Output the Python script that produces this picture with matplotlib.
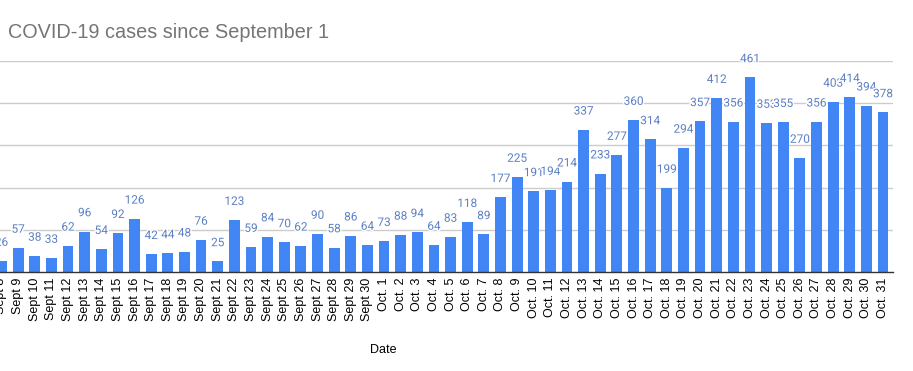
import matplotlib
matplotlib.use("Agg")
import matplotlib.pyplot as plt
import matplotlib.patheffects as pe

# dates visible in the cropped chart (Sept 8 - Oct 31)
sept_days = list(range(8, 31))
oct_days = list(range(1, 32))
dates = [f"Sept {d}" for d in sept_days] + [f"Oct. {d}" for d in oct_days]

sept_cases = [26, 57, 38, 33, 62, 96, 54, 92, 126, 42, 44, 48, 76, 25, 123,
              59, 84, 70, 62, 90, 58, 86, 64]
oct_cases = [73, 88, 94, 64, 83, 118, 89, 177, 225, 191, 194, 214, 337, 233,
             277, 360, 314, 199, 294, 357, 412, 356, 461, 353, 355, 270, 356,
             403, 414, 394, 378]
cases = sept_cases + oct_cases

BAR_COLOR = "#4285f4"
LABEL_COLOR = "#5b7fc2"

fig = plt.figure(figsize=(9.13, 3.71), dpi=100)
ax = fig.add_axes([0.0, 0.2668, 893 / 913, 0.5688])

x = list(range(len(dates)))
ax.bar(x, cases, width=0.65, color=BAR_COLOR, zorder=2)

# value labels, later ones drawn over earlier ones with a thin white halo
for xi, v in zip(x, cases):
    ax.annotate(str(v), (xi, v), xytext=(0, 13.5), textcoords="offset points",
                ha="center", va="center", fontsize=8.5, color=LABEL_COLOR,
                family="Roboto", zorder=3,
                path_effects=[pe.withStroke(linewidth=2, foreground="white")])

ax.set_xlim(-0.09, len(dates) - 1 + 0.6)
ax.set_ylim(0, 500)
ax.set_yticks([100, 200, 300, 400, 500])
ax.yaxis.grid(True, color="#cccccc", linewidth=1, zorder=0)
ax.tick_params(axis="y", left=False, labelleft=False)

ax.set_xticks(x)
ax.set_xticklabels(dates, rotation=90, fontsize=9, family="Liberation Sans")
ax.tick_params(axis="x", length=0, pad=4)

for side in ["top", "right", "left"]:
    ax.spines[side].set_visible(False)
ax.spines["bottom"].set_color("#333333")
ax.spines["bottom"].set_linewidth(1)

ax.set_xlabel("Date", fontsize=9, family="Liberation Sans")
ax.xaxis.set_label_coords(383 / 893, -(344 - 272) / 211)

fig.text(8 / 913, 1 - 33 / 371, "COVID-19 cases since September 1",
         fontsize=14.3, color="#757575", family="Liberation Sans",
         ha="left", va="center")

fig.savefig("out.png", dpi=100)
